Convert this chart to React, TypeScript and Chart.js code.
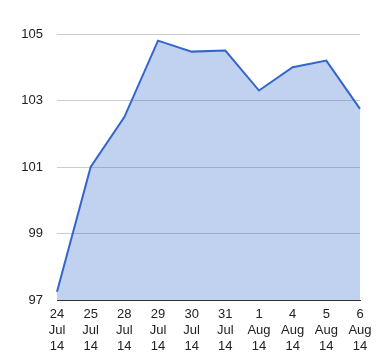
import React, { useEffect, useRef } from "react";
import { Chart, registerables } from "chart.js";

Chart.register(...registerables);

const categories: string[][] = [
  ["24", "Jul", "14"],
  ["25", "Jul", "14"],
  ["28", "Jul", "14"],
  ["29", "Jul", "14"],
  ["30", "Jul", "14"],
  ["31", "Jul", "14"],
  ["1", "Aug", "14"],
  ["4", "Aug", "14"],
  ["5", "Aug", "14"],
  ["6", "Aug", "14"],
];
const values: number[] = [97.25, 101.0, 102.5, 104.8, 104.47, 104.5, 103.3, 104.0, 104.2, 102.75];
const yMin = 97;
const yMax = 105;
const yStep = 2;

export default function App() {
  const ref = useRef<HTMLCanvasElement | null>(null);
  useEffect(() => {
    if (!ref.current) return;
    const font = { family: "'Liberation Sans', Arial, sans-serif", size: 13, lineHeight: "16px" };
    const chart = new Chart(ref.current, {
      type: "line",
      data: {
        labels: categories,
        datasets: [
          {
            data: values,
            borderColor: "#3366cc",
            backgroundColor: "rgba(51,102,204,0.3)",
            borderWidth: 2,
            fill: "origin",
            pointRadius: 0,
            tension: 0,
          },
        ],
      },
      options: {
        animation: false,
        responsive: false,
        maintainAspectRatio: false,
        layout: { padding: { top: 34, right: 20, bottom: 0, left: 0 } },
        plugins: { legend: { display: false }, tooltip: { enabled: false } },
        scales: {
          x: {
            offset: false,
            grid: { display: false, drawTicks: false },
            border: { display: true, color: "#333333", width: 1 },
            ticks: { color: "#222222", font, padding: 6, maxRotation: 0, autoSkip: false },
            afterFit: (s: any) => {
              s.height = 60;
            },
          },
          y: {
            min: yMin,
            max: yMax,
            grid: { color: "#cccccc", drawTicks: false },
            border: { display: false },
            ticks: { stepSize: yStep, color: "#222222", font, padding: 14 },
            afterFit: (s: any) => {
              s.width = 57;
            },
          },
        },
      },
    });
    return () => chart.destroy();
  }, []);
  return (
    <div style={{ position: "fixed", left: 0, top: 0, width: 380, height: 360, background: "#fff" }}>
      <canvas ref={ref} width={380} height={360} style={{ width: 380, height: 360 }} />
    </div>
  );
}
